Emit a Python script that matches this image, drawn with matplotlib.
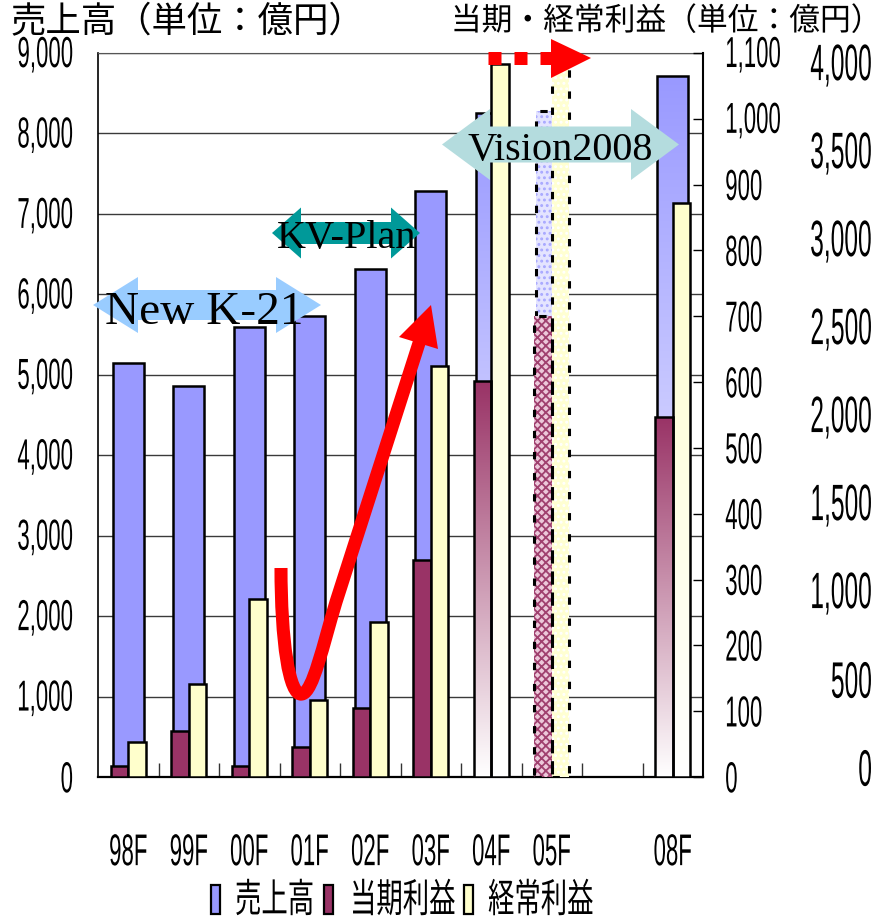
import numpy as np
import matplotlib
matplotlib.use('Agg')
import matplotlib.pyplot as plt
from matplotlib.patches import Polygon, Rectangle, PathPatch
from matplotlib.path import Path
from matplotlib.patheffects import AbstractPathEffect
from matplotlib.transforms import Affine2D
from matplotlib.colors import to_rgb

# fiscal years, 06F/07F are left out (blank slot before 08F)
years = ['98F', '99F', '00F', '01F', '02F', '03F', '04F', '05F', '08F']
sales = [5150, 4860, 5590, 5730, 6320, 7280, 8250, 8280, 8720]          # 売上高
net_income = [17, 70, 17, 46, 105, 330, 601, 700, 547]                # 当期利益
ordinary_income = [53, 141, 270, 117, 235, 625, 1083, 1075, 872]      # 経常利益
plan_years = ['04F', '08F']
forecast_years = ['05F']

sales_ticks = list(range(0, 9001, 1000))
profit_ticks = list(range(0, 1101, 100))
alt_ticks = list(range(0, 4001, 500))

W, H = 874, 922
SALES_C, NET_C, ORD_C = '#9999ff', '#993366', '#ffffcc'
DIGITS = 'Liberation Sans'
JP = 'Noto Sans CJK JP'


class Squeeze(AbstractPathEffect):
    """Rescale glyph outlines around the ink box (narrow gothic look)."""

    def __init__(self, sx=1.0, sy=1.0, anchor=0.5):
        super().__init__()
        self.sx, self.sy, self.anchor = sx, sy, anchor

    def draw_path(self, renderer, gc, tpath, affine, rgbFace=None):
        ext = tpath.get_extents()
        x0 = ext.x0 + self.anchor * ext.width
        y0 = ext.y0 + 0.5 * ext.height
        tr = Affine2D().translate(-x0, -y0).scale(self.sx, self.sy).translate(x0, y0)
        renderer.draw_path(gc, tpath, tr + affine, rgbFace)


def px_box(l, t, r, b):
    return [l / W, 1 - b / H, (r - l) / W, (b - t) / H]


def gradient_bar(axis, xc, h, w, color):
    bar = axis.bar(xc, h, w, facecolor='none', edgecolor='black', lw=1.8, zorder=3)[0]
    rgb = np.array(to_rgb(color))
    t = np.linspace(0, 1, 128)[:, None, None]
    img = (1 - t) * np.ones(3) + t * rgb
    im = axis.imshow(img, extent=(xc - w / 2, xc + w / 2, 0, h), origin='lower',
                     aspect='auto', interpolation='bilinear', zorder=2)
    im.set_clip_path(bar)


def pattern_bar(axis, xc, h, w, face, hcolor, hatch):
    axis.bar(xc, h, w, facecolor=face, edgecolor=hcolor, hatch=hatch, lw=0, zorder=3)
    axis.bar(xc, h, w, fill=False, edgecolor='black', lw=2.2,
             linestyle=(0, (2.4, 4.5)), zorder=3.5)


def draw_bar(axis, xc, h, w, yr, color, face, hcolor, hatch):
    if yr in plan_years:
        gradient_bar(axis, xc, h, w, color)
    elif yr in forecast_years:
        pattern_bar(axis, xc, h, w, face, hcolor, hatch)
    else:
        axis.bar(xc, h, w, color=color, edgecolor='black', lw=1.8, zorder=3)


plt.rcParams['hatch.linewidth'] = 1.3
fig = plt.figure(figsize=(W / 100, H / 100), dpi=100)

x = np.arange(len(years), dtype=float)
x[-1] += 1

ax = fig.add_axes(px_box(98, 53, 703, 777))
for xi, yr, v in zip(x, years, sales):
    draw_bar(ax, xi, v, 0.51, yr, SALES_C, '#e4e4ff', '#a8a8ff', '...')

ax2 = ax.twinx()
for xi, yr, v in zip(x, years, net_income):
    draw_bar(ax2, xi - 0.145, v, 0.29, yr, NET_C, '#ecc8da', '#a0406f', 'xxxx')
for xi, yr, v in zip(x, years, ordinary_income):
    draw_bar(ax2, xi + 0.145, v, 0.29, yr, ORD_C, '#ffffd2', '#ffffff', '...')

ax3 = ax.twinx()

ax.set_xlim(-0.5, 9.5)
ax.set_ylim(0, 9000)
ax2.set_ylim(0, 1100)
ax3.set_ylim(-56.8, 4056.8)

ax.set_yticks(sales_ticks, [f'{v:,}' for v in sales_ticks])
ax.set_xticks(x, years)
ax.set_xticks(np.arange(0.5, 9.0, 1.0), minor=True)
ax.tick_params(axis='x', which='major', length=0, pad=54, labelsize=16,
               labelfontfamily=DIGITS)
ax.tick_params(axis='x', which='minor', direction='in', length=10, width=1,
               color='#333333')
ax.tick_params(axis='y', length=0, pad=18, labelsize=16, labelfontfamily=DIGITS)
ax.yaxis.grid(True, color='#3a3a3a', lw=1.0)
ax.set_axisbelow(True)
ax.spines['top'].set_color('#555555')
ax.spines['right'].set_visible(False)
ax.spines['left'].set_linewidth(1.2)
ax.spines['bottom'].set_linewidth(1.6)

ax2.set_yticks(profit_ticks, [f'{v:,}' for v in profit_ticks])
ax2.tick_params(axis='y', direction='in', length=7, width=1, pad=16,
                labelsize=16, labelfontfamily=DIGITS)
for side in ['left', 'top', 'bottom']:
    ax2.spines[side].set_visible(False)
ax2.spines['right'].set_linewidth(1.5)

ax3.set_yticks(alt_ticks, [f'{v:,}' for v in alt_ticks])
ax3.tick_params(axis='y', length=0, pad=121.7, labelsize=17.7,
                labelfontfamily=DIGITS)
for side in ax3.spines:
    ax3.spines[side].set_visible(False)

for lab in ax.get_yticklabels() + ax2.get_yticklabels():
    lab.set_path_effects([Squeeze(sy=1.95)])
for lab in ax.get_xticklabels():
    lab.set_va('center')
    lab.set_path_effects([Squeeze(sy=2.0)])
for lab in ax3.get_yticklabels():
    lab.set_ha('right')
    lab.set_path_effects([Squeeze(sy=2.08, anchor=1.0)])

# overlay in pixel coordinates for the plan arrows and headings
ov = fig.add_axes([0, 0, 1, 1], zorder=10)
ov.set_xlim(0, W)
ov.set_ylim(H, 0)
ov.axis('off')


def double_arrow(xl, xr, yc, head, hh, sh, color):
    pts = [(xl, yc), (xl + head, yc - hh), (xl + head, yc - sh), (xr - head, yc - sh),
           (xr - head, yc - hh), (xr, yc), (xr - head, yc + hh), (xr - head, yc + sh),
           (xl + head, yc + sh), (xl + head, yc + hh)]
    ov.add_patch(Polygon(pts, closed=True, facecolor=color, edgecolor='none'))


double_arrow(93, 321, 305, 45, 28, 15, '#99ccff')
ov.text(204, 324, 'New K-21', fontsize=34, family='Liberation Serif',
        ha='center', va='baseline')
double_arrow(272, 420, 233, 29, 25.5, 11, '#009999')
ov.text(347, 248, 'KV-Plan', fontsize=29, family='Liberation Serif',
        ha='center', va='baseline')
double_arrow(442, 679, 144.5, 48, 35.5, 18, '#b4dcde')
ov.text(560, 160, 'Vision2008', fontsize=29, family='Liberation Serif',
        ha='center', va='baseline')

# red swoosh from the 01F dip up to 03F
verts = [(281, 568), (281, 640), (289, 697), (302, 694),
         (313, 692), (323, 645), (336, 602), (420, 340)]
codes = [Path.MOVETO, Path.CURVE4, Path.CURVE4, Path.CURVE4,
         Path.CURVE4, Path.CURVE4, Path.CURVE4, Path.LINETO]
ov.add_patch(PathPatch(Path(verts, codes), facecolor='none', edgecolor='red',
                       lw=9.4, capstyle='butt', joinstyle='round'))
ov.add_patch(Polygon([(431, 305), (399, 337), (438, 349)], closed=True,
                     facecolor='red', edgecolor='none'))

# dotted red arrow toward 08F
ov.plot([488, 553], [58, 58], color='red', lw=9.36, dashes=(1, 1),
        dash_capstyle='butt', solid_capstyle='butt')
ov.add_patch(Polygon([(551, 39), (591, 58), (551, 78)], closed=True,
                     facecolor='red', edgecolor='none'))

ov.text(11, 22, '売上高（単位：億円）', fontsize=25.5, family=JP, ha='left', va='center')
ov.text(451, 21, '当期・経常利益（単位：億円）', fontsize=21.5, family=JP,
        ha='left', va='center', path_effects=[Squeeze(sx=1.03, sy=1.05, anchor=0.0)])

# legend
legend_items = [('売上高', SALES_C, 211, 235), ('当期利益', NET_C, 324, 350),
                ('経常利益', ORD_C, 464, 488)]
for label, color, bx, tx in legend_items:
    ov.add_patch(Rectangle((bx, 885), 8.5, 29, facecolor=color,
                           edgecolor='black', lw=1.6))
    ov.text(tx, 899.5, label, fontsize=19, family=JP, ha='left', va='center',
            path_effects=[Squeeze(sy=1.5, anchor=0.0)])

fig.savefig('out.png', dpi=100)
